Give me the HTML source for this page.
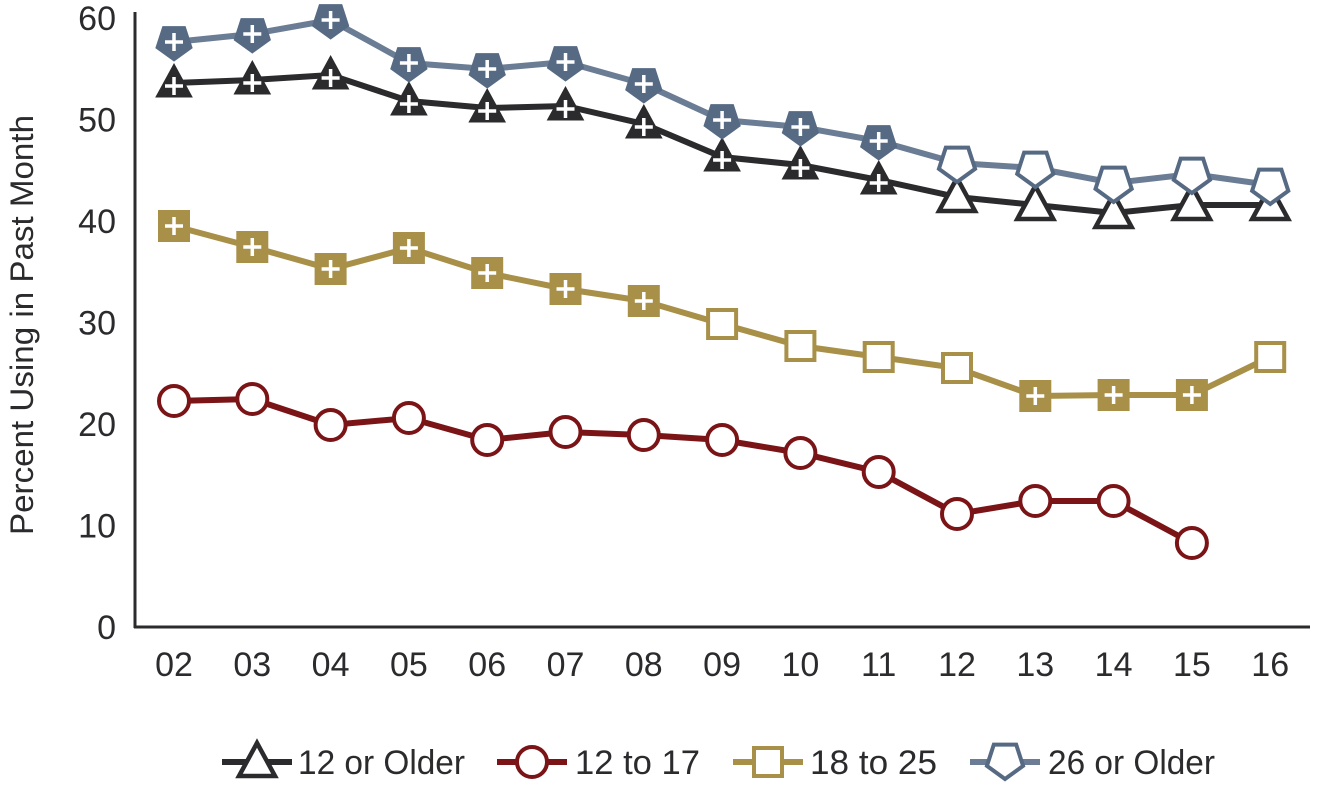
<!DOCTYPE html>
<html><head><meta charset="utf-8"><style>
html,body{margin:0;padding:0;background:#fff;}
svg{display:block;font-family:"Liberation Sans Narrow","Liberation Sans",sans-serif;}
</style></head><body>
<svg id="c" width="1317" height="785" xmlns="http://www.w3.org/2000/svg"></svg>
<script>
const s=document.getElementById('c');let h='';
const X=i=>174+i*78.3;
const K='#2b2b2e',R='#7a1416',G='#a89048',B='#566a84',BL='#6b7c95';
h+=`<line x1="135" y1="12" x2="135" y2="628" stroke="${K}" stroke-width="3"/>`;
h+=`<line x1="134" y1="627" x2="1310" y2="627" stroke="${K}" stroke-width="3"/>`;
for(let v=0;v<=60;v+=10){const y=627-v*10.15;h+=`<text x="116" y="${y+12}" text-anchor="end" font-size="34" fill="${K}">${v}</text>`;}
const yrs=['02','03','04','05','06','07','08','09','10','11','12','13','14','15','16'];
yrs.forEach((t,i)=>h+=`<text x="${X(i)}" y="676" text-anchor="middle" font-size="34" fill="${K}">${t}</text>`);
h+=`<text transform="translate(33,535) rotate(-90)" font-size="32" textLength="420" lengthAdjust="spacingAndGlyphs" fill="${K}">Percent Using in Past Month</text>`;
const line=(ys,c)=>`<polyline points="${ys.map((y,i)=>X(i)+','+y).join(' ')}" fill="none" stroke="${c}" stroke-width="6"/>`;
const plus=(x,y)=>`<path d="M${x-9} ${y}H${x+9}M${x} ${y-9}V${y+9}" stroke="#fff" stroke-width="3.5"/>`;
const tri=(x,y,f)=>`<polygon points="${x},${y-19} ${x+18},${y+14} ${x-18},${y+14}" fill="${f?K:'#fff'}" stroke="${K}" stroke-width="${f?1:4.5}"/>`+(f?plus(x,y+3):'');
const pent=(x,y,f)=>{let p=[];for(let k=0;k<5;k++){const a=Math.PI/2+k*2*Math.PI/5;p.push((x+19*Math.cos(a)).toFixed(1)+','+(y+19*Math.sin(a)).toFixed(1));}
 return `<polygon points="${p.join(' ')}" fill="${f?B:'#fff'}" stroke="${B}" stroke-width="${f?1:4}"/>`+(f?plus(x,y):'');};
const sq=(x,y,f)=>f?`<rect x="${x-16}" y="${y-16}" width="32" height="32" fill="${G}"/>`+plus(x,y):`<rect x="${x-14}" y="${y-14}" width="28" height="28" fill="#fff" stroke="${G}" stroke-width="4"/>`;
const circ=(x,y)=>`<circle cx="${x}" cy="${y}" r="15" fill="#fff" stroke="${R}" stroke-width="4"/>`;
const t12=[83,80,75,101,108,106,124,157,165,180,197,205,213,205,205];
const p26=[42,34,20,63,69,62,84,120,127,141,163,168,183,174,185];
const s18=[226,247,269,248,273,289,301,324,346,357,368,396,395,395,357];
const c12=[401,399,425,418,440,432,435,440,453,472,514,501,501,543];
h+=line(s18,G)+line(c12,R)+line(t12,K)+line(p26,BL);
s18.forEach((y,i)=>h+=sq(X(i),y,i<=6||(i>=11&&i<=13)));
c12.forEach((y,i)=>h+=circ(X(i),y));
t12.forEach((y,i)=>h+=tri(X(i),y,i<=9));
p26.forEach((y,i)=>h+=pent(X(i),y,i<=9));
const ly=762;
h+=`<line x1="222" y1="${ly}" x2="292" y2="${ly}" stroke="${K}" stroke-width="6"/>`+tri(257,ly,false);
h+=`<text x="298" y="${ly+12}" font-size="34" textLength="167" lengthAdjust="spacingAndGlyphs" fill="${K}">12 or Older</text>`;
h+=`<line x1="497" y1="${ly}" x2="567" y2="${ly}" stroke="${R}" stroke-width="6"/>`+circ(532,ly);
h+=`<text x="575" y="${ly+12}" font-size="34" textLength="125" lengthAdjust="spacingAndGlyphs" fill="${K}">12 to 17</text>`;
h+=`<line x1="733" y1="${ly}" x2="803" y2="${ly}" stroke="${G}" stroke-width="6"/>`+sq(768,ly,false);
h+=`<text x="810" y="${ly+12}" font-size="34" textLength="127" lengthAdjust="spacingAndGlyphs" fill="${K}">18 to 25</text>`;
h+=`<line x1="970" y1="${ly}" x2="1040" y2="${ly}" stroke="${BL}" stroke-width="6"/>`+pent(1005,ly-2,false);
h+=`<text x="1048" y="${ly+12}" font-size="34" textLength="167" lengthAdjust="spacingAndGlyphs" fill="${K}">26 or Older</text>`;
s.innerHTML=h;
</script>
</body></html>
